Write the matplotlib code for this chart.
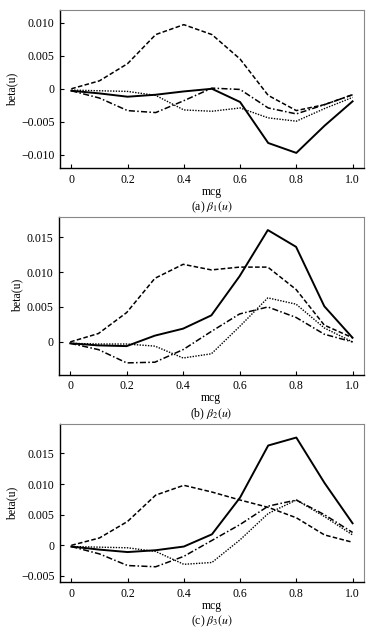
import numpy as np
import matplotlib.pyplot as plt

plt.rcParams['font.family'] = ['Liberation Serif', 'DejaVu Serif']
plt.rcParams['mathtext.fontset'] = 'stix'

mcg = [0, 0.1, 0.2, 0.3, 0.4, 0.5, 0.6, 0.7, 0.8, 0.9, 1.0]

# (a) beta1
b1_solid = [-0.0003, -0.0007, -0.0012, -0.0009, -0.0004, 0.0, -0.0020, -0.0082, -0.0097, -0.0056, -0.0019]
b1_dash = [0.0, 0.0012, 0.0038, 0.0082, 0.0097, 0.0082, 0.0045, -0.0010, -0.0033, -0.0024, -0.0009]
b1_dashdot = [-0.0003, -0.0014, -0.0033, -0.0036, -0.0018, 0.0001, -0.0001, -0.0029, -0.0038, -0.0024, -0.0009]
b1_dot = [-0.0002, -0.0003, -0.0004, -0.0010, -0.0032, -0.0034, -0.0029, -0.0044, -0.0049, -0.0030, -0.0013]

# (b) beta2
b2_solid = [-0.0002, -0.0005, -0.0006, 0.0009, 0.0019, 0.0038, 0.0094, 0.0160, 0.0136, 0.0051, 0.0006]
b2_dash = [0.0, 0.0012, 0.0042, 0.0091, 0.0111, 0.0103, 0.0107, 0.0107, 0.0075, 0.0024, 0.0006]
b2_dashdot = [-0.0002, -0.0011, -0.0030, -0.0029, -0.0011, 0.0015, 0.0040, 0.0050, 0.0035, 0.0011, 0.0]
b2_dot = [-0.0002, -0.0003, -0.0003, -0.0006, -0.0023, -0.0017, 0.0022, 0.0063, 0.0054, 0.0020, 0.0]

# (c) beta3
b3_solid = [-0.0002, -0.0007, -0.0011, -0.0008, -0.0002, 0.0018, 0.0078, 0.0163, 0.0176, 0.0102, 0.0036]
b3_dash = [0.0, 0.0012, 0.0039, 0.0082, 0.0098, 0.0087, 0.0074, 0.0062, 0.0045, 0.0017, 0.0005]
b3_dashdot = [-0.0002, -0.0014, -0.0033, -0.0035, -0.0018, 0.0008, 0.0034, 0.0064, 0.0074, 0.0050, 0.0021]
b3_dot = [-0.0002, -0.0003, -0.0004, -0.0010, -0.0031, -0.0028, 0.0009, 0.0052, 0.0074, 0.0047, 0.0017]

xticks = [0, 0.2, 0.4, 0.6, 0.8, 1.0]
xticklabels = ['0', '0.2', '0.4', '0.6', '0.8', '1.0']

panels = [
    dict(series=[b1_solid, b1_dash, b1_dashdot, b1_dot], rect=[0.156, 0.734, 0.789, 0.25],
         ylim=(-0.012, 0.0119), yticks=[-0.010, -0.005, 0, 0.005, 0.010],
         yticklabels=['\u22120.010', '\u22120.005', '0', '0.005', '0.010'], cap=r'(a) $\beta_1(u)$'),
    dict(series=[b2_solid, b2_dash, b2_dashdot, b2_dot], rect=[0.153, 0.407, 0.792, 0.25],
         ylim=(-0.0047, 0.0179), yticks=[0, 0.005, 0.010, 0.015],
         yticklabels=['0', '0.005', '0.010', '0.015'], cap=r'(b) $\beta_2(u)$'),
    dict(series=[b3_solid, b3_dash, b3_dashdot, b3_dot], rect=[0.156, 0.079, 0.789, 0.25],
         ylim=(-0.006, 0.0198), yticks=[-0.005, 0, 0.005, 0.010, 0.015],
         yticklabels=['\u22120.005', '0', '0.005', '0.010', '0.015'], cap=r'(c) $\beta_3(u)$'),
]

styles = ['-', (0, (3, 1.5)), (0, (4, 1.5, 1, 1.5)), (0, (1, 1))]
widths = [1.4, 1.1, 1.1, 1.0]

fig = plt.figure(figsize=(3.85, 6.32), dpi=100)
for p in panels:
    ax = fig.add_axes(p['rect'])
    for s, ls, lw in zip(p['series'], styles, widths):
        ax.plot(mcg, s, color='black', linestyle=ls, linewidth=lw)
    ax.set_xlim(-0.04, 1.04)
    ax.set_ylim(*p['ylim'])
    ax.set_xticks(xticks)
    ax.set_xticklabels(xticklabels)
    ax.set_yticks(p['yticks'])
    ax.set_yticklabels(p['yticklabels'])
    ax.tick_params(direction='in', length=3, width=0.8, labelsize=8.5, pad=4)
    ax.set_ylabel('beta(u)', fontsize=8.5, labelpad=2)
    ax.set_xlabel('mcg', fontsize=8.5, labelpad=0)
    ax.text(0.5, -0.25, p['cap'], transform=ax.transAxes, ha='center', va='center', fontsize=8.5)
    for side in ['top', 'right']:
        ax.spines[side].set_color('#888888')
    for side in ['left', 'bottom']:
        ax.spines[side].set_linewidth(1.0)

fig.savefig('out.png', dpi=100)
